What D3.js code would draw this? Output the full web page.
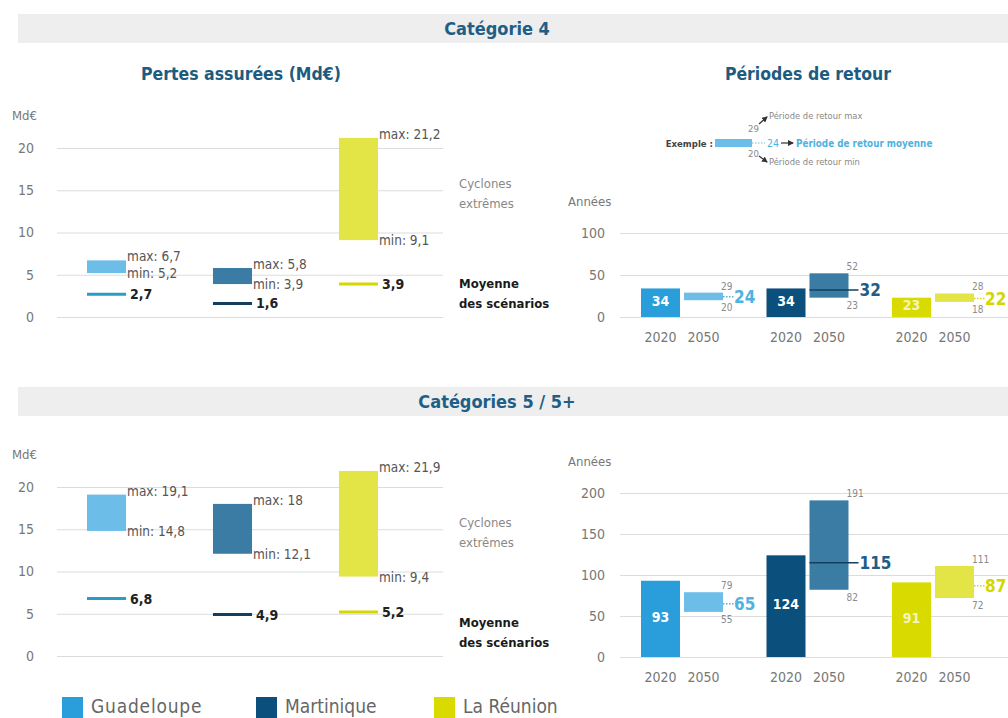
<!DOCTYPE html>
<html>
<head>
<meta charset="utf-8">
<script src="https://cdn.jsdelivr.net/npm/d3@7"></script>
<style>
  html, body { margin: 0; padding: 0; background: #ffffff; }
  svg { display: block; }
  text { font-family: 'DejaVu Sans Condensed', 'Roboto', sans-serif; }
</style>
</head>
<body>
<svg id="chart" width="1008" height="718"></svg>
<script>
// Territories and their colours
const territories = ["Guadeloupe", "Martinique", "La Réunion"];
const colorMain  = ["#2a9edb", "#0b4f7d", "#d9da00"];
const colorRange = ["#6cbde8", "#3b7ca4", "#e3e546"];
const colorMean  = ["#2a9cc8", "#123f5f", "#d6d800"];
const colorMeanLabel = ["#4fb2e0", "#1d5d86", "#d4d600"];

// Insured losses (Md€) — category 4
const cat4LossMin  = [5.2, 3.9, 9.1];
const cat4LossMax  = [6.7, 5.8, 21.2];
const cat4LossMean = [2.7, 1.6, 3.9];
// Insured losses (Md€) — categories 5 / 5+
const cat5LossMin  = [14.8, 12.1, 9.4];
const cat5LossMax  = [19.1, 18, 21.9];
const cat5LossMean = [6.8, 4.9, 5.2];

// Return periods (years) — category 4
const cat4Rp2020     = [34, 34, 23];
const cat4Rp2050Min  = [20, 23, 18];
const cat4Rp2050Max  = [29, 52, 28];
const cat4Rp2050Mean = [24, 32, 22];
// Return periods (years) — categories 5 / 5+
const cat5Rp2020     = [93, 124, 91];
const cat5Rp2050Min  = [55, 82, 72];
const cat5Rp2050Max  = [79, 191, 111];
const cat5Rp2050Mean = [65, 115, 87];

const lossTicks = [0, 5, 10, 15, 20];
const rpTicks4  = [0, 50, 100];
const rpTicks5  = [0, 50, 100, 150, 200];
const years     = ["2020", "2050"];
const fmt = v => String(v).replace(".", ",");

const svg = d3.select("#chart");

// ---------- section banners ----------
function banner(y, h, label) {
  svg.append("rect").attr("x", 18).attr("y", y).attr("width", 990).attr("height", h)
    .attr("fill", "#eeeeee");
  svg.append("text").attr("x", 497).attr("y", y + h / 2 + 6)
    .attr("text-anchor", "middle").attr("font-size", 18).attr("font-weight", "bold")
    .attr("fill", "#1f5e85").text(label);
}
banner(14, 29, "Catégorie 4");
banner(387, 29, "Catégories 5 / 5+");

// titles
svg.append("text").attr("x", 241).attr("y", 80).attr("text-anchor", "middle")
  .attr("font-size", 17.5).attr("font-weight", "bold").attr("fill", "#1d5b80")
  .text("Pertes assurées (Md€)");
svg.append("text").attr("x", 808).attr("y", 80).attr("text-anchor", "middle")
  .attr("font-size", 17.5).attr("font-weight", "bold").attr("fill", "#1d5b80")
  .text("Périodes de retour");

// ---------- loss panels ----------
const xLoss = d3.scaleBand().domain(territories).range([87, 378])
  .paddingInner(0.69).paddingOuter(0);

function lossPanel(y0, y20, mins, maxs, means) {
  const y = d3.scaleLinear().domain([0, 20]).range([y0, y20]);
  const g = svg.append("g");

  // grid + tick labels
  const axis = d3.axisLeft(y).tickValues(lossTicks).tickSize(-386).tickPadding(23);
  const ag = g.append("g").attr("transform", "translate(57,0)").call(axis);
  ag.select(".domain").remove();
  ag.selectAll(".tick line").attr("stroke", "#dcdcdc").attr("stroke-width", 1);
  ag.selectAll(".tick text").attr("font-size", 14).attr("fill", "#777")
    .attr("font-family", "'DejaVu Sans Condensed', sans-serif");

  g.append("text").attr("x", 12).attr("y", y(20) - 28).attr("font-size", 13)
    .attr("fill", "#777").text("Md€");

  territories.forEach((t, i) => {
    const x = xLoss(t), w = xLoss.bandwidth();
    g.append("rect").attr("x", x).attr("y", y(maxs[i])).attr("width", w)
      .attr("height", y(mins[i]) - y(maxs[i])).attr("fill", colorRange[i]);
    g.append("text").attr("x", x + w + 1).attr("y", y(maxs[i]) + 1)
      .attr("font-size", 13.5).attr("fill", "#555").text("max: " + fmt(maxs[i]));
    g.append("text").attr("x", x + w + 1).attr("y", y(mins[i]) + 5)
      .attr("font-size", 13.5).attr("fill", "#555").text("min: " + fmt(mins[i]));
    // scenario mean
    g.append("line").attr("x1", x).attr("x2", x + w).attr("y1", y(means[i])).attr("y2", y(means[i]))
      .attr("stroke", colorMean[i]).attr("stroke-width", 3);
    g.append("text").attr("x", x + w + 4).attr("y", y(means[i]) + 5)
      .attr("font-size", 14).attr("font-weight", "bold").attr("fill", "#222").text(fmt(means[i]));
  });

  // side notes
  const yc = y(15);
  g.append("text").attr("x", 459).attr("y", yc - 2).attr("font-size", 13).attr("fill", "#888").text("Cyclones");
  g.append("text").attr("x", 459).attr("y", yc + 18).attr("font-size", 13).attr("fill", "#888").text("extrêmes");
  const ym = y(5);
  g.append("text").attr("x", 459).attr("y", ym + 13).attr("font-size", 13).attr("font-weight", "bold")
    .attr("fill", "#1a1a1a").text("Moyenne");
  g.append("text").attr("x", 459).attr("y", ym + 33).attr("font-size", 13).attr("font-weight", "bold")
    .attr("fill", "#1a1a1a").text("des scénarios");
}
lossPanel(317, 148, cat4LossMin, cat4LossMax, cat4LossMean);
lossPanel(656, 487, cat5LossMin, cat5LossMax, cat5LossMean);

// ---------- return period panels ----------
const xGroup = d3.scaleBand().domain(territories).range([641, 974])
  .paddingInner(0.3466).paddingOuter(0);
const xYear = d3.scaleBand().domain(years).range([0, xGroup.bandwidth()])
  .paddingInner(0.093).paddingOuter(0);

function rpPanel(yRange, ticks, vals2020, mins, maxs, means) {
  const y = d3.scaleLinear().domain([0, d3.max(ticks)]).range(yRange);
  const g = svg.append("g");

  const axis = d3.axisLeft(y).tickValues(ticks).tickSize(-390).tickPadding(15);
  const ag = g.append("g").attr("transform", "translate(620,0)").call(axis);
  ag.select(".domain").remove();
  ag.selectAll(".tick line").attr("stroke", "#dcdcdc").attr("stroke-width", 1);
  ag.selectAll(".tick text").attr("font-size", 14).attr("fill", "#777")
    .attr("font-family", "'DejaVu Sans Condensed', sans-serif");

  g.append("text").attr("x", 568).attr("y", y(d3.max(ticks)) - 27).attr("font-size", 13)
    .attr("fill", "#777").text("Années");

  territories.forEach((t, i) => {
    const gx = xGroup(t), w = xYear.bandwidth();
    const x20 = gx + xYear("2020"), x50 = gx + xYear("2050");

    // 2020 bar
    g.append("rect").attr("x", x20).attr("y", y(vals2020[i])).attr("width", w)
      .attr("height", y(0) - y(vals2020[i])).attr("fill", colorMain[i]);
    g.append("text").attr("x", x20 + w / 2).attr("y", (y(0) + y(vals2020[i])) / 2 + 3)
      .attr("text-anchor", "middle").attr("font-size", 14).attr("font-weight", "bold")
      .attr("fill", i === 2 ? "#f4f4c0" : "#ffffff").text(vals2020[i]);

    // 2050 range bar
    g.append("rect").attr("x", x50).attr("y", y(maxs[i])).attr("width", w)
      .attr("height", y(mins[i]) - y(maxs[i])).attr("fill", colorRange[i]);
    g.append("text").attr("x", x50 + w - 2).attr("y", y(maxs[i]) - 3)
      .attr("font-size", 10).attr("fill", "#8a8a8a").text(maxs[i]);
    g.append("text").attr("x", x50 + w - 2).attr("y", y(mins[i]) + 11)
      .attr("font-size", 10).attr("fill", "#8a8a8a").text(mins[i]);

    // mean marker and label
    const ym = y(means[i]);
    if (i === 1) {
      g.append("line").attr("x1", x50).attr("x2", x50 + w + 10).attr("y1", ym).attr("y2", ym)
        .attr("stroke", "#123f5f").attr("stroke-width", 1.5);
    } else {
      g.append("line").attr("x1", x50 + w).attr("x2", x50 + w + 11).attr("y1", ym).attr("y2", ym)
        .attr("stroke", colorMeanLabel[i]).attr("stroke-width", 1.5).attr("stroke-dasharray", "1.5,1.5");
    }
    g.append("text").attr("x", x50 + w + 11).attr("y", ym + 6)
      .attr("font-size", 17).attr("font-weight", "bold").attr("fill", colorMeanLabel[i]).text(means[i]);

    // year labels
    years.forEach(yr => {
      g.append("text").attr("x", gx + xYear(yr) + w / 2).attr("y", y(0) + 25)
        .attr("text-anchor", "middle").attr("font-size", 14).attr("fill", "#777").text(yr);
    });
  });
}
rpPanel([317, 233], rpTicks4, cat4Rp2020, cat4Rp2050Min, cat4Rp2050Max, cat4Rp2050Mean);
rpPanel([657, 493], rpTicks5, cat5Rp2020, cat5Rp2050Min, cat5Rp2050Max, cat5Rp2050Mean);

// ---------- reading key for the return periods ----------
const key = svg.append("g");
svg.append("defs").append("marker").attr("id", "arr").attr("viewBox", "0 0 6 6")
  .attr("refX", 5).attr("refY", 3).attr("markerWidth", 5).attr("markerHeight", 5)
  .attr("orient", "auto").append("path").attr("d", "M0,0L6,3L0,6Z").attr("fill", "#333");
key.append("text").attr("x", 713).attr("y", 147).attr("text-anchor", "end").attr("font-size", 9.5)
  .attr("font-weight", "bold").attr("fill", "#444").text("Exemple :");
key.append("rect").attr("x", 715).attr("y", 139).attr("width", 37).attr("height", 8).attr("fill", "#6cbde8");
key.append("line").attr("x1", 752).attr("x2", 765).attr("y1", 143).attr("y2", 143)
  .attr("stroke", "#6cbde8").attr("stroke-dasharray", "1.5,1.5");
key.append("text").attr("x", 748).attr("y", 132).attr("font-size", 9.5).attr("fill", "#888").text("29");
key.append("text").attr("x", 748).attr("y", 157).attr("font-size", 9.5).attr("fill", "#888").text("20");
key.append("text").attr("x", 767).attr("y", 147).attr("font-size", 10.5).attr("fill", "#4fb2e0").text("24");
key.append("line").attr("x1", 781).attr("x2", 793).attr("y1", 143).attr("y2", 143)
  .attr("stroke", "#333").attr("stroke-width", 1.2).attr("marker-end", "url(#arr)");
key.append("text").attr("x", 796).attr("y", 147).attr("font-size", 9.8).attr("font-weight", "bold")
  .attr("fill", "#4fb2e0").text("Période de retour moyenne");
key.append("line").attr("x1", 759).attr("x2", 767).attr("y1", 124).attr("y2", 117)
  .attr("stroke", "#333").attr("stroke-width", 1.2).attr("marker-end", "url(#arr)");
key.append("text").attr("x", 769).attr("y", 119).attr("font-size", 9.3).attr("fill", "#888")
  .text("Période de retour max");
key.append("line").attr("x1", 759).attr("x2", 767).attr("y1", 156).attr("y2", 162)
  .attr("stroke", "#333").attr("stroke-width", 1.2).attr("marker-end", "url(#arr)");
key.append("text").attr("x", 769).attr("y", 165).attr("font-size", 9.3).attr("fill", "#888")
  .text("Période de retour min");

// ---------- legend ----------
const legendX = [62, 256, 434];
territories.forEach((t, i) => {
  svg.append("rect").attr("x", legendX[i]).attr("y", 697).attr("width", 21).attr("height", 21)
    .attr("fill", colorMain[i]);
  svg.append("text").attr("x", legendX[i] + 29).attr("y", 713).attr("font-size", 19)
    .attr("fill", "#666").attr("letter-spacing", i === 0 ? 0.8 : 0)
    .attr("font-family", "'DejaVu Sans Condensed', sans-serif").text(t);
});
</script>
</body>
</html>
